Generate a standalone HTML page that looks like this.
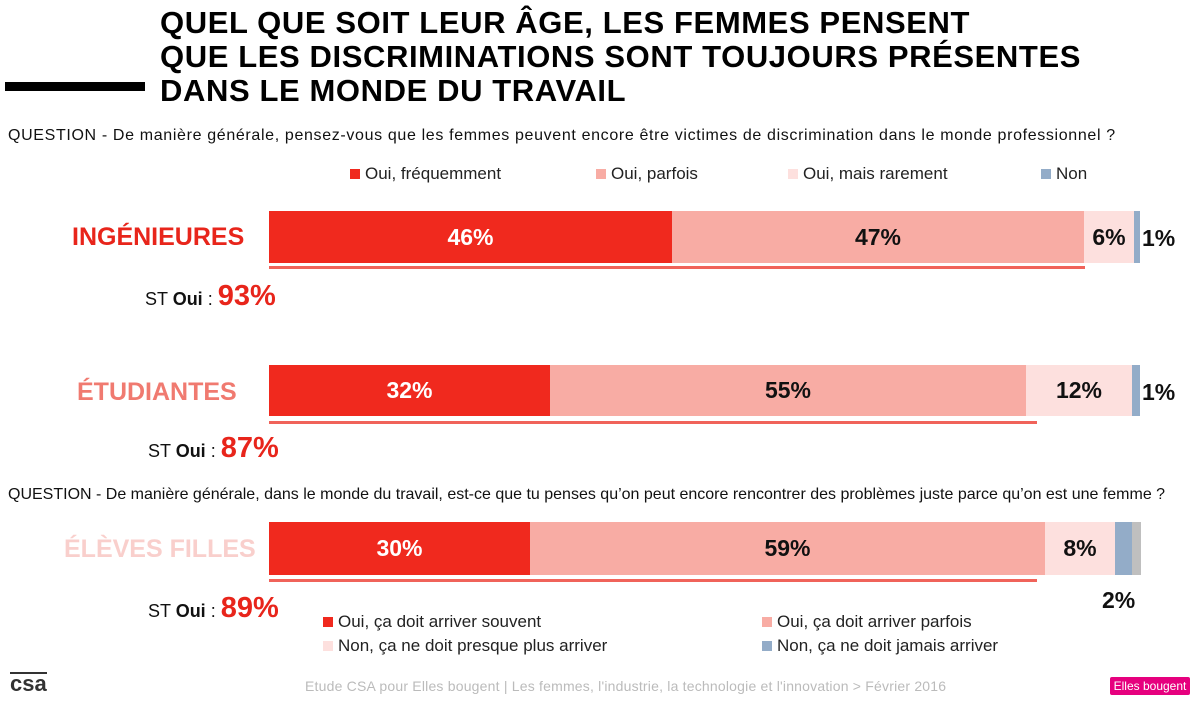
<!DOCTYPE html>
<html><head><meta charset="utf-8"><style>
body{margin:0;width:1200px;height:703px;background:#fff;font-family:"Liberation Sans",Arial,sans-serif;position:relative;overflow:hidden}
div{position:absolute;white-space:nowrap}
.t{left:160px;font-weight:bold;font-size:31px;letter-spacing:0.6px;color:#000;line-height:34px}
.q{font-size:16px;color:#111}
.lg{font-size:17px;color:#222}
.sq{display:inline-block;width:10px;height:10px;margin-right:5px;vertical-align:0}
.lab{font-weight:bold;font-size:25px}
.seg{top:0;height:100%;display:flex;align-items:center;justify-content:center;font-weight:bold;font-size:23px}
.ul{height:3px;background:#f0635a}
.st{font-size:18px;color:#111}
.st span{font-weight:bold;font-size:29px;color:#e8251b}
.pct{font-weight:bold;font-size:23px;color:#111}
</style></head><body>
<div class="t" style="top:6px">QUEL QUE SOIT LEUR ÂGE, LES FEMMES PENSENT</div>
<div class="t" style="top:40px">QUE LES DISCRIMINATIONS SONT TOUJOURS PRÉSENTES</div>
<div class="t" style="top:74px">DANS LE MONDE DU TRAVAIL</div>
<div style="left:5px;top:82px;width:140px;height:9px;background:#000"></div>
<div class="q" style="left:8px;top:127px;letter-spacing:0.65px">QUESTION - De manière générale, pensez-vous que les femmes peuvent encore être victimes de discrimination dans le monde professionnel ?</div>
<div class="lg" style="left:350px;top:164px"><span class="sq" style="background:#f0291e"></span>Oui, fréquemment</div>
<div class="lg" style="left:596px;top:164px"><span class="sq" style="background:#f8aca4"></span>Oui, parfois</div>
<div class="lg" style="left:788px;top:164px"><span class="sq" style="background:#fde0de"></span>Oui, mais rarement</div>
<div class="lg" style="left:1041px;top:164px"><span class="sq" style="background:#93acc8"></span>Non</div>

<div class="lab" style="left:72px;top:223px;color:#e8251b">INGÉNIEURES</div>
<div style="left:269px;top:211px;width:872px;height:52px">
<div class="seg" style="left:0;width:403px;background:#f0291e;color:#fff">46%</div>
<div class="seg" style="left:403px;width:412px;background:#f8aca4;color:#111">47%</div>
<div class="seg" style="left:815px;width:50px;background:#fde0de;color:#111">6%</div>
<div class="seg" style="left:865px;width:6px;background:#93acc8"></div>
</div>
<div class="pct" style="left:1142px;top:225px">1%</div>
<div class="ul" style="left:269px;top:266px;width:816px"></div>
<div class="st" style="left:145px;top:280px">ST <b>Oui</b> : <span>93%</span></div>

<div class="lab" style="left:77px;top:378px;color:#f07a70">ÉTUDIANTES</div>
<div style="left:269px;top:365px;width:872px;height:51px">
<div class="seg" style="left:0;width:281px;background:#f0291e;color:#fff">32%</div>
<div class="seg" style="left:281px;width:476px;background:#f8aca4;color:#111">55%</div>
<div class="seg" style="left:757px;width:106px;background:#fde0de;color:#111">12%</div>
<div class="seg" style="left:863px;width:8px;background:#93acc8"></div>
</div>
<div class="pct" style="left:1142px;top:379px">1%</div>
<div class="ul" style="left:269px;top:421px;width:768px"></div>
<div class="st" style="left:148px;top:432px">ST <b>Oui</b> : <span>87%</span></div>

<div class="q" style="left:8px;top:486px">QUESTION - De manière générale, dans le monde du travail, est-ce que tu penses qu’on peut encore rencontrer des problèmes juste parce qu’on est une femme ?</div>
<div class="lab" style="left:64px;top:535px;color:#f9cfcc">ÉLÈVES FILLES</div>
<div style="left:269px;top:522px;width:872px;height:53px">
<div class="seg" style="left:0;width:261px;background:#f0291e;color:#fff">30%</div>
<div class="seg" style="left:261px;width:515px;background:#f8aca4;color:#111">59%</div>
<div class="seg" style="left:776px;width:70px;background:#fde0de;color:#111">8%</div>
<div class="seg" style="left:846px;width:17px;background:#93acc8"></div>
<div class="seg" style="left:863px;width:9px;background:#bfbfbf"></div>
</div>
<div class="ul" style="left:269px;top:579px;width:768px"></div>
<div class="pct" style="left:1102px;top:587px">2%</div>
<div class="st" style="left:148px;top:592px">ST <b>Oui</b> : <span>89%</span></div>
<div class="lg" style="left:323px;top:612px"><span class="sq" style="background:#f0291e"></span>Oui, ça doit arriver souvent</div>
<div class="lg" style="left:762px;top:612px"><span class="sq" style="background:#f8aca4"></span>Oui, ça doit arriver parfois</div>
<div class="lg" style="left:323px;top:636px"><span class="sq" style="background:#fde0de"></span>Non, ça ne doit presque plus arriver</div>
<div class="lg" style="left:762px;top:636px"><span class="sq" style="background:#93acc8"></span>Non, ça ne doit jamais arriver</div>

<div style="left:10px;top:672px;font-weight:bold;font-size:22px;color:#333;border-top:2px solid #333;line-height:20px">csa</div>
<div style="left:305px;top:678px;font-size:14px;letter-spacing:0.2px;color:#bbb">Etude CSA pour Elles bougent | Les femmes, l'industrie, la technologie et l'innovation &gt; Février 2016</div>
<div style="left:1110px;top:677px;width:80px;height:18px;background:#e6007e;color:#fff;font-size:12px;text-align:center;line-height:18px;border-radius:2px">Elles bougent</div>
</body></html>
